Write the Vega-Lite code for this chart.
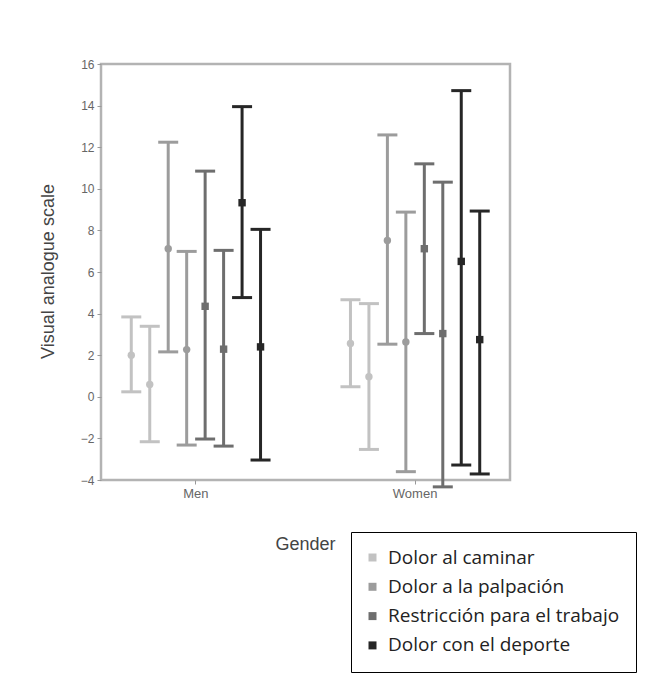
{
  "$schema": "https://vega.github.io/schema/vega-lite/v6.json",
  "autosize": "none",
  "width": 409,
  "height": 416,
  "padding": {"left": 101, "top": 64, "right": 138, "bottom": 213},
  "background": "white",
  "data": {
    "values": [
      {"gender": "Men", "series": "A1", "category": "Dolor al caminar", "mean": 2.0, "lo": 0.24, "hi": 3.84},
      {"gender": "Men", "series": "A2", "category": "Dolor al caminar", "mean": 0.59, "lo": -2.16, "hi": 3.39},
      {"gender": "Men", "series": "B1", "category": "Dolor a la palpación", "mean": 7.12, "lo": 2.16, "hi": 12.24},
      {"gender": "Men", "series": "B2", "category": "Dolor a la palpación", "mean": 2.27, "lo": -2.32, "hi": 6.99},
      {"gender": "Men", "series": "C1", "category": "Restricción para el trabajo", "mean": 4.35, "lo": -2.03, "hi": 10.85},
      {"gender": "Men", "series": "C2", "category": "Restricción para el trabajo", "mean": 2.29, "lo": -2.37, "hi": 7.04},
      {"gender": "Men", "series": "D1", "category": "Dolor con el deporte", "mean": 9.33, "lo": 4.77, "hi": 13.95},
      {"gender": "Men", "series": "D2", "category": "Dolor con el deporte", "mean": 2.4, "lo": -3.04, "hi": 8.05},
      {"gender": "Women", "series": "A1", "category": "Dolor al caminar", "mean": 2.56, "lo": 0.48, "hi": 4.67},
      {"gender": "Women", "series": "A2", "category": "Dolor al caminar", "mean": 0.96, "lo": -2.53, "hi": 4.48},
      {"gender": "Women", "series": "B1", "category": "Dolor a la palpación", "mean": 7.52, "lo": 2.53, "hi": 12.59},
      {"gender": "Women", "series": "B2", "category": "Dolor a la palpación", "mean": 2.64, "lo": -3.6, "hi": 8.88},
      {"gender": "Women", "series": "C1", "category": "Restricción para el trabajo", "mean": 7.12, "lo": 3.04, "hi": 11.2},
      {"gender": "Women", "series": "C2", "category": "Restricción para el trabajo", "mean": 3.04, "lo": -4.33, "hi": 10.32},
      {"gender": "Women", "series": "D1", "category": "Dolor con el deporte", "mean": 6.51, "lo": -3.28, "hi": 14.72},
      {"gender": "Women", "series": "D2", "category": "Dolor con el deporte", "mean": 2.75, "lo": -3.71, "hi": 8.93}
    ]
  },
  "encoding": {
    "x": {
      "field": "gender", "type": "nominal",
      "scale": {"domain": ["Men", "Women"], "paddingInner": 0.326, "paddingOuter": 0.096},
      "axis": {
        "title": "Gender", "labelAngle": 0, "domain": false,
        "ticks": true, "tickSize": 4, "tickColor": "#999999", "tickWidth": 1,
        "labelPadding": 3, "labelFont": "Liberation Sans", "labelFontSize": 13, "labelColor": "#666666",
        "titleFont": "Liberation Sans", "titleFontSize": 18, "titleFontWeight": "normal", "titleColor": "#444444",
        "titleX": 204, "titleY": 64, "titleAlign": "center", "titleBaseline": "middle"
      }
    },
    "xOffset": {
      "field": "series", "type": "nominal",
      "scale": {"domain": ["A1", "A2", "B1", "B2", "C1", "C2", "D1", "D2"], "paddingInner": 0, "paddingOuter": 0}
    },
    "color": {
      "field": "category", "type": "nominal",
      "scale": {
        "domain": ["Dolor al caminar", "Dolor a la palpación", "Restricción para el trabajo", "Dolor con el deporte"],
        "range": ["#c2c2c2", "#9c9c9c", "#6e6e6e", "#262626"]
      },
      "legend": {
        "orient": "none", "legendX": 250, "legendY": 468, "title": null,
        "symbolType": "square", "symbolSize": 64, "symbolOffset": -4,
        "labelFont": "Open Sans", "labelFontSize": 19, "labelColor": "#222222", "labelOffset": 6,
        "labelLimit": 400, "rowPadding": 9.3, "padding": 16,
        "strokeColor": "#000000", "fillColor": "#ffffff",
        "encode": {
          "symbols": {"update": {"shape": {"value": "square"}, "fill": {"scale": "color", "field": "value"}, "stroke": {"value": "transparent"}, "strokeWidth": {"value": 0}, "opacity": {"value": 1}}}
        }
      }
    }
  },
  "layer": [
    {
      "mark": {"type": "rule", "strokeWidth": 3},
      "encoding": {
        "y": {
          "field": "lo", "type": "quantitative",
          "scale": {"domain": [-4, 16], "nice": false, "zero": false},
          "axis": {
            "title": "Visual analogue scale", "domain": false, "grid": false,
            "values": [-4, -3, -2, -1, 0, 1, 2, 3, 4, 5, 6, 7, 8, 9, 10, 11, 12, 13, 14, 15, 16],
            "labelExpr": "datum.value % 2 == 0 ? datum.label : ''",
            "tickSize": 4, "tickColor": "#999999", "tickWidth": 1, "labelPadding": 3,
            "labelFont": "Liberation Sans", "labelFontSize": 12, "labelColor": "#666666",
            "titleFont": "Liberation Sans", "titleFontSize": 18, "titleFontWeight": "normal", "titleColor": "#444444",
            "titleX": -53, "titleY": 207, "titleAlign": "center", "titleBaseline": "middle"
          }
        },
        "y2": {"field": "hi"}
      }
    },
    {
      "mark": {"type": "tick", "thickness": 3, "size": 20, "opacity": 1},
      "encoding": {"y": {"field": "hi", "type": "quantitative"}}
    },
    {
      "mark": {"type": "tick", "thickness": 3, "size": 20, "opacity": 1},
      "encoding": {"y": {"field": "lo", "type": "quantitative"}}
    },
    {
      "transform": [{"filter": {"field": "category", "oneOf": ["Dolor al caminar", "Dolor a la palpación"]}}],
      "mark": {"type": "point", "shape": "circle", "filled": true, "size": 55, "opacity": 1},
      "encoding": {"y": {"field": "mean", "type": "quantitative"}}
    },
    {
      "transform": [{"filter": {"field": "category", "oneOf": ["Restricción para el trabajo", "Dolor con el deporte"]}}],
      "mark": {"type": "point", "shape": "square", "filled": true, "size": 55, "opacity": 1},
      "encoding": {"y": {"field": "mean", "type": "quantitative"}}
    }
  ],
  "config": {
    "view": {"stroke": "#b3b3b3", "strokeWidth": 2.5}
  }
}
